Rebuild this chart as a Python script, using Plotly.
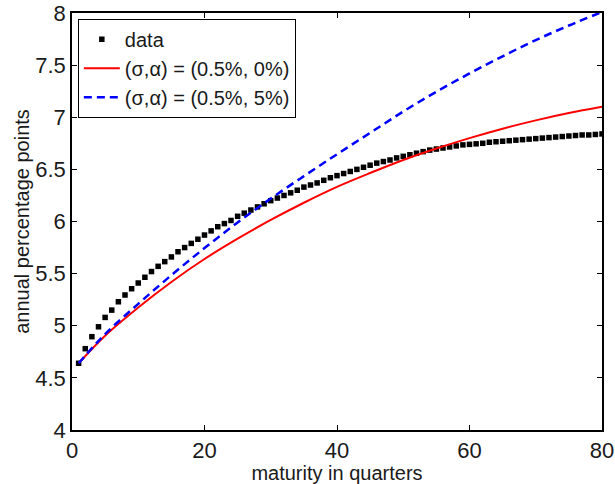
import plotly.graph_objects as go

# data (one point per quarter, 1..80)
maturity = list(range(1, 81))
data_vals = [4.64, 4.78, 4.895, 4.99, 5.08, 5.15, 5.23, 5.295, 5.355, 5.41,
             5.465, 5.52, 5.57, 5.615, 5.66, 5.71, 5.75, 5.79, 5.83, 5.87,
             5.91, 5.95, 5.98, 6.01, 6.05, 6.08, 6.11, 6.14, 6.17, 6.20,
             6.225, 6.25, 6.275, 6.30, 6.33, 6.35, 6.37, 6.395, 6.42, 6.44,
             6.46, 6.48, 6.50, 6.52, 6.54, 6.56, 6.575, 6.59, 6.61, 6.625,
             6.64, 6.655, 6.67, 6.685, 6.695, 6.705, 6.715, 6.725, 6.735, 6.74,
             6.745, 6.75, 6.76, 6.765, 6.77, 6.775, 6.78, 6.785, 6.79, 6.795,
             6.80, 6.805, 6.81, 6.815, 6.82, 6.825, 6.83, 6.83, 6.835, 6.84]

model_x = [1, 5, 10, 15, 20, 25, 30, 35, 40, 45, 50, 55, 60, 65, 70, 75, 80]
model_a0 = [4.64, 4.905, 5.175, 5.42, 5.64, 5.835, 6.015, 6.18, 6.332, 6.465,
            6.59, 6.70, 6.80, 6.89, 6.97, 7.04, 7.10]
model_a5 = [4.64, 4.92, 5.21, 5.485, 5.745, 5.99, 6.22, 6.435, 6.645, 6.85,
            7.055, 7.245, 7.42, 7.585, 7.74, 7.88, 8.01]

x_ticks = [0, 20, 40, 60, 80]
y_ticks = [4, 4.5, 5, 5.5, 6, 6.5, 7, 7.5, 8]
y_ticktext = ["4", "4.5", "5", "5.5", "6", "6.5", "7", "7.5", "8"]

FONT = "Liberation Sans, Arial, sans-serif"
TXT = "#1a1a1a"

fig = go.Figure()
fig.add_trace(go.Scatter(
    x=maturity, y=data_vals, mode="markers", name="data",
    marker=dict(symbol="square", size=5.5, color="black", line=dict(width=0)),
))
fig.add_trace(go.Scatter(
    x=model_x, y=model_a0, mode="lines", name="(σ,α) = (0.5%, 0%)",
    line=dict(color="#ff0000", width=2, shape="spline", smoothing=1),
))
fig.add_trace(go.Scatter(
    x=model_x, y=model_a5, mode="lines", name="(σ,α) = (0.5%, 5%)",
    line=dict(color="#0000ff", width=2.5, shape="spline", smoothing=1,
              dash="8px,5px"),
))

axis_common = dict(
    showgrid=False, zeroline=False, showline=True, linecolor="black",
    linewidth=1.5, mirror="ticks", ticks="inside", ticklen=5,
    tickcolor="black", tickwidth=1, automargin=False,
    tickfont=dict(family=FONT, size=22, color=TXT),
)

fig.update_xaxes(range=[0, 80], tickvals=x_ticks, ticklabelstandoff=0,
                 title=dict(text="maturity in quarters",
                            font=dict(family=FONT, size=20, color=TXT),
                            standoff=0),
                 **axis_common)
fig.update_yaxes(range=[4, 8], tickvals=y_ticks, ticktext=y_ticktext,
                 ticklabelstandoff=0,
                 title=dict(text="annual percentage points",
                            font=dict(family=FONT, size=20, color=TXT),
                            standoff=0),
                 **axis_common)

fig.update_layout(
    width=615, height=484,
    margin=dict(l=72, r=13, t=13, b=54),
    plot_bgcolor="white", paper_bgcolor="white",
    font=dict(family=FONT, color=TXT),
    legend=dict(
        x=0.011, y=0.986, xanchor="left", yanchor="top",
        bgcolor="white", bordercolor="black", borderwidth=1,
        font=dict(family=FONT, size=20, color=TXT),
        itemwidth=36, tracegroupgap=0,
    ),
)

fig.write_html("out.html")
